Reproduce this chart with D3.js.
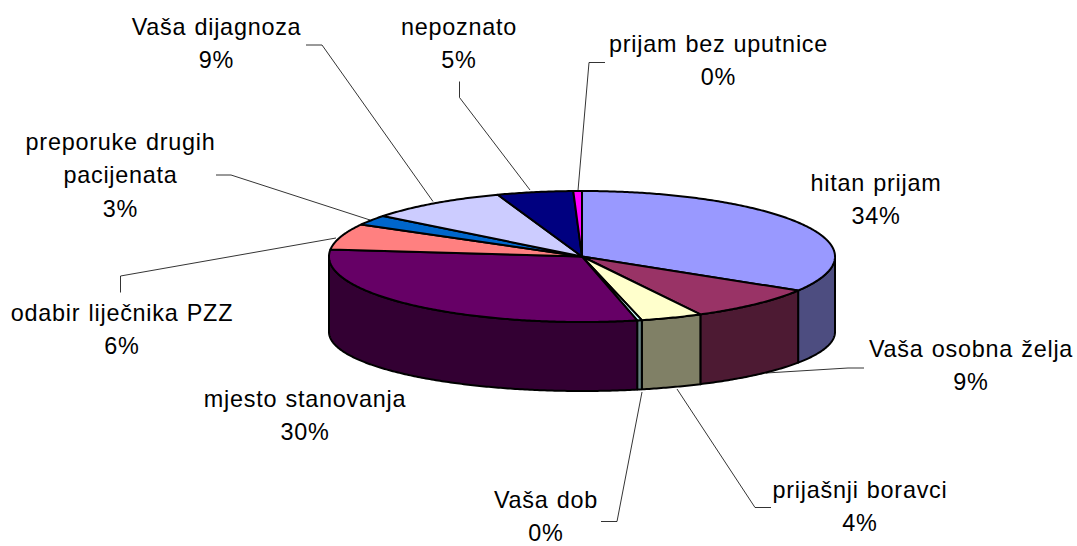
<!DOCTYPE html>
<html>
<head>
<meta charset="utf-8">
<style>
  html, body { margin: 0; padding: 0; background: #fff; }
  text { font-family: "Liberation Sans", Arial, sans-serif; font-size: 23.4px; letter-spacing: 0.75px; word-spacing: 1px; fill: #000; text-anchor: middle; }
</style>
<script src="https://cdnjs.cloudflare.com/ajax/libs/d3/7.8.5/d3.min.js"></script>
</head>
<body>
<svg id="chart" width="1077" height="546"></svg>
<script>
/* ------------------------------- Chart data ------------------------------- */
const categories = ['hitan prijam', 'Vaša osobna želja', 'prijašnji boravci', 'Vaša dob', 'mjesto stanovanja',
    'odabir liječnika PZZ', 'preporuke drugih pacijenata', 'Vaša dijagnoza', 'nepoznato', 'prijam bez uputnice'];
// slice sizes, the printed labels are kept apart
const values = [33.7, 8.55, 3.95, 0.3, 30.2, 6.4, 2.5, 9.0, 4.85, 0.55];
const percentLabels = ['34%', '9%', '4%', '0%', '30%', '6%', '3%', '9%', '5%', '0%'];
const topColours = ['#9999ff', '#993366', '#ffffcc', '#ccffff', '#660066', '#ff8080', '#0066cc', '#ccccff', '#000080', '#ff00ff'];
const sideColours = ['#4d4d80', '#4d1a33', '#808066', '#668080', '#330033', '#804040', '#003366', '#666680', '#000040', '#800080'];

/* --------------------------------- Layout --------------------------------- */
// label centre, first baseline and wrapped lines, in the order of categories
const labelLayout = [
    { x: 876, y: 191, lines: ['hitan prijam'] },
    { x: 971, y: 357, lines: ['Vaša osobna želja'] },
    { x: 860, y: 497.5, lines: ['prijašnji boravci'] },
    { x: 546, y: 507.5, lines: ['Vaša dob'] },
    { x: 305, y: 407, lines: ['mjesto stanovanja'] },
    { x: 122, y: 321, lines: ['odabir liječnika PZZ'] },
    { x: 120.5, y: 150, lines: ['preporuke drugih', 'pacijenata'] },
    { x: 216.5, y: 35, lines: ['Vaša dijagnoza'] },
    { x: 459, y: 35, lines: ['nepoznato'] },
    { x: 718.5, y: 52, lines: ['prijam bez uputnice'] }
];
const leaders = [
    null,
    [[864, 368], [848, 368], [766, 373]],
    [[771, 507.5], [755, 507.5], [677, 389]],
    [[601, 521.5], [617, 521.5], [642, 392]],
    null,
    [[120.5, 292.5], [120.5, 276], [336, 238]],
    [[216, 175], [231, 175], [370, 220]],
    [[306, 45], [322, 45], [433, 201.5]],
    [[459.5, 81.5], [459.5, 97.5], [530, 190]],
    [[605, 62.5], [589, 62.5], [578, 190.5]]
];
const lineGap = 33.4;

/* ------------------------------ Pie geometry ------------------------------ */
const svg = d3.select('#chart');

const x = d3.scaleLinear().domain([-1, 1]).range([329, 835]);
const yTop = d3.scaleLinear().domain([-1, 1]).range([191, 322]);
// the floor ellipse is flatter than the top one, the reference has perspective
const yBottom = d3.scaleLinear().domain([-1, 1]).range([273, 391]);

const pie = d3.pie().sort(null).value(d => d);
const slices = pie(values);

const pathLine = d3.line().x(d => d[0]).y(d => d[1]);
const TAU = Math.PI * 2;

function anglesBetween(a0, a1) {
    const n = Math.max(2, Math.ceil((a1 - a0) / 0.01));
    return d3.range(n + 1).map(i => a0 + (a1 - a0) * i / n);
}
const rim = (a, y) => [x(Math.sin(a)), y(-Math.cos(a))];

/* ---------------------------------- Sides --------------------------------- */
// only the front half of the rim can be seen
const frontStart = TAU / 4;
const frontEnd = TAU * 3 / 4;

svg.append('g')
    .selectAll('path')
    .data(slices.filter(d => d.endAngle > frontStart && d.startAngle < frontEnd))
    .join('path')
    .attr('d', d => {
        const angles = anglesBetween(Math.max(d.startAngle, frontStart), Math.min(d.endAngle, frontEnd));
        const upper = angles.map(a => rim(a, yTop));
        const lower = angles.slice().reverse().map(a => rim(a, yBottom));
        return pathLine(upper.concat(lower)) + 'Z';
    })
    .attr('fill', d => sideColours[d.index])
    .attr('stroke', '#000')
    .attr('stroke-width', 2)
    .attr('stroke-linejoin', 'round');

/* ----------------------------------- Top ---------------------------------- */
svg.append('g')
    .selectAll('path')
    .data(slices)
    .join('path')
    .attr('d', d => {
        const outer = anglesBetween(d.startAngle, d.endAngle).map(a => rim(a, yTop));
        return pathLine([[x(0), yTop(0)]].concat(outer)) + 'Z';
    })
    .attr('fill', d => topColours[d.index])
    .attr('stroke', '#000')
    .attr('stroke-width', 2)
    .attr('stroke-linejoin', 'round');

/* --------------------------------- Leaders -------------------------------- */
svg.append('g')
    .selectAll('path')
    .data(leaders.filter(d => d))
    .join('path')
    .attr('d', pathLine)
    .attr('fill', 'none')
    .attr('stroke', '#000')
    .attr('stroke-width', 0.8);

/* --------------------------------- Labels --------------------------------- */
const labels = svg.append('g')
    .selectAll('text')
    .data(categories)
    .join('text')
    .attr('transform', (d, i) => `translate(${labelLayout[i].x},${labelLayout[i].y})`);

labels.selectAll('tspan')
    .data((d, i) => labelLayout[i].lines.concat(percentLabels[i]))
    .join('tspan')
    .attr('x', 0)
    .attr('y', (d, i) => i * lineGap)
    .text(d => d);
</script>
</body>
</html>
